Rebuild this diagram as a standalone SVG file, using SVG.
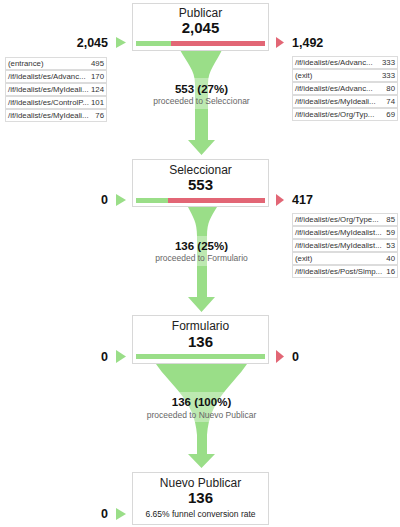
<svg xmlns="http://www.w3.org/2000/svg" width="400" height="527" viewBox="0 0 400 527">
<style>
text{font-family:"Liberation Sans",Arial,sans-serif}
.box{fill:#fff;stroke:#d8d8d8;stroke-width:1}
.ttl{font-size:12px;fill:#222;text-anchor:middle}
.val{font-size:15px;font-weight:bold;fill:#111;text-anchor:middle}
.side{font-size:12.5px;font-weight:bold;fill:#111}
.g{fill:#9ade88}
.r{fill:#e26675}
.band{fill:#fff;opacity:0.35}
.cnt{font-size:11.5px;font-weight:bold;fill:#111;text-anchor:middle}
.pro{font-size:8.5px;fill:#666;text-anchor:middle}
.row{fill:#fff;stroke:#dcdcdc;stroke-width:1}
.tl{font-size:7.8px;fill:#333}
.tn{font-size:7.8px;fill:#333;text-anchor:end}
.conv{font-size:8.5px;fill:#222;text-anchor:middle}
</style>
<g id="connectors">
<path class="g" d="M180,50 C187,63 195,70 195,84 L195,140 L188,140 L201.5,155 L215,140 L208,140 L208,84 C208,70 216,63 222,50 Z"/>
<rect class="band" x="150" y="78" width="103" height="31"/>
<path class="g" d="M188,207 C193,217 197,222 197,236 L197,297 L188,297 L201.5,312 L215,297 L207,297 L207,236 C207,222 211,217 217,207 Z"/>
<rect class="band" x="150" y="236" width="103" height="30"/>
<path class="g" d="M156,364 C170,385 195,400 197,435 L197,454 L188,454 L201.5,468 L215,454 L207,454 L207,435 C209,400 233,385 247,364 Z"/>
<rect class="band" x="150" y="392" width="103" height="30"/>
</g>
<g id="label1"><text class="cnt" x="201.5" y="93">553 (27%)</text><text class="pro" x="201.5" y="104">proceeded to Seleccionar</text></g>
<g id="label2"><text class="cnt" x="201.5" y="250">136 (25%)</text><text class="pro" x="201.5" y="261">proceeded to Formulario</text></g>
<g id="label3"><text class="cnt" x="201.5" y="406">136 (100%)</text><text class="pro" x="201.5" y="418">proceeded to Nuevo Publicar</text></g>

<g id="step-publicar">
<rect class="box" x="132.5" y="3.5" width="136" height="47"/>
<text class="ttl" x="200.5" y="17">Publicar</text>
<text class="val" x="200.5" y="33">2,045</text>
<rect class="g" x="136" y="41" width="35" height="5"/>
<rect class="r" x="171" y="41" width="94" height="5"/>
<polygon class="g" points="116,37 126,42.5 116,48"/>
<text class="side" x="108" y="47" text-anchor="end">2,045</text>
<polygon class="r" points="276,37 284,42.5 276,48"/>
<text class="side" x="292" y="47">1,492</text>
</g>

<g id="entrances-publicar">
<rect class="row" x="5.5" y="57.5" width="101" height="12"/><text class="tl" x="8" y="66">(entrance)</text><text class="tn" x="104" y="66">495</text>
<rect class="row" x="5.5" y="70.5" width="101" height="12"/><text class="tl" x="8" y="79">/if/idealist/es/Advanc...</text><text class="tn" x="104" y="79">170</text>
<rect class="row" x="5.5" y="83.5" width="101" height="12"/><text class="tl" x="8" y="92">/if/idealist/es/MyIdeali...</text><text class="tn" x="104" y="92">124</text>
<rect class="row" x="5.5" y="96.5" width="101" height="12"/><text class="tl" x="8" y="105">/if/idealist/es/ControlP...</text><text class="tn" x="104" y="105">101</text>
<rect class="row" x="5.5" y="109.5" width="101" height="12"/><text class="tl" x="8" y="118">/if/idealist/es/MyIdeali...</text><text class="tn" x="104" y="118">76</text>
</g>

<g id="exits-publicar">
<rect class="row" x="292.5" y="56.5" width="105" height="12"/><text class="tl" x="295" y="65">/if/idealist/es/Advanc...</text><text class="tn" x="395" y="65">333</text>
<rect class="row" x="292.5" y="69.5" width="105" height="12"/><text class="tl" x="295" y="78">(exit)</text><text class="tn" x="395" y="78">333</text>
<rect class="row" x="292.5" y="82.5" width="105" height="12"/><text class="tl" x="295" y="91">/if/idealist/es/Advanc...</text><text class="tn" x="395" y="91">80</text>
<rect class="row" x="292.5" y="95.5" width="105" height="12"/><text class="tl" x="295" y="104">/if/idealist/es/MyIdeali...</text><text class="tn" x="395" y="104">74</text>
<rect class="row" x="292.5" y="108.5" width="105" height="12"/><text class="tl" x="295" y="117">/if/idealist/es/Org/Typ...</text><text class="tn" x="395" y="117">69</text>
</g>

<g id="step-seleccionar">
<rect class="box" x="132.5" y="159.5" width="136" height="47"/>
<text class="ttl" x="200.5" y="174">Seleccionar</text>
<text class="val" x="200.5" y="190">553</text>
<rect class="g" x="136" y="198" width="32" height="5"/>
<rect class="r" x="168" y="198" width="97" height="5"/>
<polygon class="g" points="116,194 126,200 116,206"/>
<text class="side" x="108" y="204" text-anchor="end">0</text>
<polygon class="r" points="276,194 284,200 276,206"/>
<text class="side" x="292" y="204">417</text>
</g>

<g id="exits-seleccionar">
<rect class="row" x="292.5" y="213.5" width="105" height="12"/><text class="tl" x="295" y="222">/if/idealist/es/Org/Type...</text><text class="tn" x="395" y="222">85</text>
<rect class="row" x="292.5" y="226.5" width="105" height="12"/><text class="tl" x="295" y="235">/if/idealist/es/MyIdealist...</text><text class="tn" x="395" y="235">59</text>
<rect class="row" x="292.5" y="239.5" width="105" height="12"/><text class="tl" x="295" y="248">/if/idealist/es/MyIdealist...</text><text class="tn" x="395" y="248">53</text>
<rect class="row" x="292.5" y="252.5" width="105" height="12"/><text class="tl" x="295" y="261">(exit)</text><text class="tn" x="395" y="261">40</text>
<rect class="row" x="292.5" y="265.5" width="105" height="12"/><text class="tl" x="295" y="274">/if/idealist/es/Post/Simp...</text><text class="tn" x="395" y="274">16</text>
</g>

<g id="step-formulario">
<rect class="box" x="132.5" y="315.5" width="136" height="48"/>
<text class="ttl" x="200.5" y="330">Formulario</text>
<text class="val" x="200.5" y="347">136</text>
<rect class="g" x="136" y="354" width="129" height="5"/>
<polygon class="g" points="116,350 126,356.5 116,363"/>
<text class="side" x="108" y="361" text-anchor="end">0</text>
<polygon class="r" points="276,350 284,356.5 276,363"/>
<text class="side" x="292" y="361">0</text>
</g>

<g id="step-nuevo-publicar">
<rect class="box" x="132.5" y="472.5" width="136" height="52"/>
<text class="ttl" x="200.5" y="487">Nuevo Publicar</text>
<text class="val" x="200.5" y="503">136</text>
<text class="conv" x="200.5" y="517">6.65% funnel conversion rate</text>
<polygon class="g" points="116,508 126,514 116,520"/>
<text class="side" x="108" y="518" text-anchor="end">0</text>
</g>
</svg>
